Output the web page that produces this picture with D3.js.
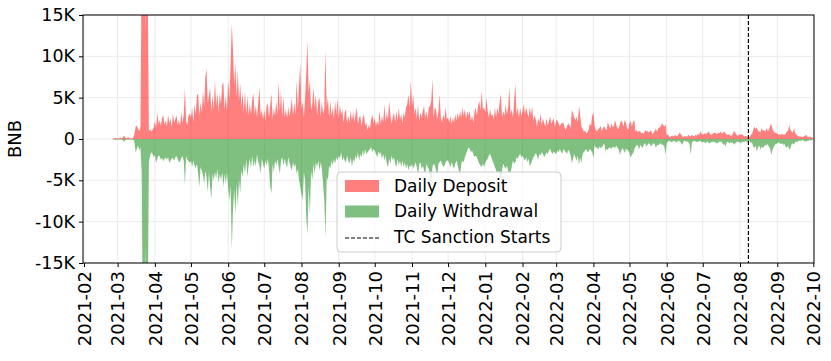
<!DOCTYPE html>
<html>
<head>
<meta charset="utf-8">
<script src="https://cdn.jsdelivr.net/npm/d3@7"></script>
<style>
  body { margin: 0; background: #fff; }
  text { font-family: "DejaVu Sans", sans-serif; }
</style>
</head>
<body>
<div id="chart"></div>
<script>
// first day of each block of daily values
var monthStarts = ["2021-02-25", "2021-03-01", "2021-04-01", "2021-05-01", "2021-06-01", "2021-07-01",
  "2021-08-01", "2021-09-01", "2021-10-01", "2021-11-01", "2021-12-01", "2022-01-01", "2022-02-01",
  "2022-03-01", "2022-04-01", "2022-05-01", "2022-06-01", "2022-07-01", "2022-08-01", "2022-09-01",
  "2022-10-01"];

// daily deposits, thousands of BNB (one row per month)
var depositK = [
  [0.1,0.05,0.15,0.1],
  [0.1,0.05,0.2,0.1,0.15,0.35,0.3,0.1,0.15,0.2, 0.1,0.1,0.05,0.15,0.6,1.5,1.6,1.2,1.0,1.3, 22,28,30,13,26,20,1.0,1.2,0.9,1.1, 1.4],
  [2.1,1.4,3.2,1.8,2.3,1.6,2.5,2.9,1.7,2.3, 1.5,2.9,1.9,2.5,1.4,3.1,2.0,2.4,2.9,1.7, 2.3,1.6,3.3,1.9,3.0,6.1,2.2,1.7,2.8,3.1],
  [2.6,3.8,2.0,4.2,3.0,5.3,5.5,2.8,4.4,3.2, 5.8,4.0,7.5,8.5,4.4,5.2,6.2,3.4,5.3,3.6, 7.1,4.0,5.6,3.2,5.5,4.2,6.5,6.9,3.6,5.2, 3.4],
  [7.1,4.8,9.0,14.0,10.8,6.5,9.2,5.0,8.3,4.6, 6.7,4.0,5.6,3.2,5.8,3.0,5.2,2.8,4.3,3.0, 4.8,5.5,2.9,4.1,2.6,4.4,6.3,2.8,3.6,2.4],
  [3.5,2.2,4.0,4.3,2.6,4.1,5.5,2.4,3.7,2.8, 4.6,3.0,7.0,3.4,5.9,2.6,5.1,2.6,3.6,2.5, 3.9,2.7,3.7,5.0,2.8,4.4,3.0,7.1,3.6,6.7, 9.2],
  [3.6,4.6,2.6,4.9,8.0,11.9,5.6,7.1,3.5,4.2, 6.3,3.8,5.4,2.8,4.6,5.0,2.7,4.6,3.0,3.7, 10.7,3.8,5.0,2.6,4.6,2.8,3.8,2.4,4.6,3.0, 5.0],
  [2.4,4.2,3.0,3.6,2.0,3.2,3.6,1.9,2.8,2.0, 3.4,2.2,3.4,2.0,3.0,3.8,1.8,2.6,2.8,1.5, 2.6,3.0,1.6,2.0,1.1,1.7,1.3,2.4,3.0,1.9],
  [2.6,1.5,2.2,1.6,3.4,1.8,2.8,2.0,4.2,2.0, 3.2,2.4,4.6,3.0,1.8,2.7,3.2,2.0,3.4,2.2, 3.8,2.4,3.0,1.9,3.2,2.6,3.8,4.2,5.4,3.8, 7.1],
  [4.0,5.4,3.0,3.8,2.4,4.2,2.2,3.2,2.6,3.4, 4.0,2.6,3.4,2.4,3.8,4.0,4.6,7.3,2.6,3.8, 3.6,2.4,3.4,5.4,2.6,2.0,3.0,2.4,3.8,2.4],
  [2.6,2.0,2.8,1.8,2.6,2.0,3.0,2.2,3.2,2.4, 3.4,2.6,3.8,2.8,3.6,2.4,3.4,2.8,3.4,2.2, 2.8,2.0,3.2,3.8,2.8,4.0,4.6,3.4,5.8,3.6, 3.8],
  [3.2,5.0,3.4,2.6,3.6,2.8,3.0,2.4,3.8,2.6, 3.8,3.0,4.6,5.4,2.6,3.4,2.8,4.2,3.0,3.8, 6.3,3.0,3.6,2.6,4.6,6.7,3.0,3.8,2.6,3.8, 2.8],
  [3.4,4.2,3.0,3.8,3.2,2.6,3.9,2.8,4.0,2.2, 2.9,2.4,1.5,2.5,2.0,3.1,1.7,2.5,1.9,1.5, 2.5,1.6,2.2,2.7,1.8,2.2,2.5,1.4],
  [2.3,2.2,1.9,1.5,1.8,1.9,2.0,1.4,1.1,1.5, 1.9,1.7,1.3,3.5,3.1,2.6,2.3,2.7,2.0,4.0, 2.9,1.5,1.2,0.9,1.0,0.7,0.8,1.1,1.9,1.6, 2.9],
  [3.1,1.5,1.1,0.9,1.2,1.3,1.6,0.9,1.4,1.5, 1.2,1.1,2.1,1.6,1.3,1.9,1.4,1.6,2.3,1.7, 1.3,1.2,1.8,2.3,2.0,1.5,2.3,2.0,1.3,1.1],
  [1.9,2.2,1.5,2.1,2.3,0.9,1.1,0.8,1.0,0.9, 0.7,0.8,0.6,1.1,0.9,1.0,0.8,0.9,1.1,0.5, 0.8,1.0,1.2,0.9,1.3,1.4,1.5,1.9,1.7,1.5, 1.8],
  [0.4,0.6,0.3,0.2,0.4,0.4,0.3,0.5,0.3,0.4, 0.6,0.8,0.5,0.3,0.2,0.4,0.3,0.3,0.5,0.4, 0.3,0.5,0.4,0.3,0.5,0.4,0.6,0.5,0.9,0.7],
  [0.5,0.6,0.7,0.6,0.8,0.9,0.6,0.5,0.6,0.7, 0.8,0.7,0.6,0.8,0.7,0.9,0.6,0.8,0.9,0.7, 0.5,0.5,0.6,0.4,0.4,0.6,1.0,0.8,0.5,0.4, 0.5],
  [0.5,0.6,0.5,0.4,0.3,0.4,0.3,0.3,0.2,0.5, 0.6,1.1,1.5,1.2,1.4,1.0,0.9,0.8,1.3,1.0, 1.1,0.9,1.3,1.0,1.1,1.5,1.9,1.2,0.9,0.8, 0.7],
  [0.7,0.5,0.6,0.5,0.6,0.5,0.5,0.6,0.9,1.0, 1.7,1.1,0.9,0.8,1.3,0.7,0.5,0.4,0.3,0.3, 0.3,0.2,0.3,0.4,0.5,0.3,0.2,0.3,0.2,0.2],
  [0.1]
];

// daily withdrawals, thousands of BNB (drawn below zero)
var withdrawalK = [
  [0.05,0.1,0.05,0.1],
  [0.05,0.1,0.05,0.1,0.1,0.3,0.2,0.05,0.1,0.1, 0.05,0.1,0.1,0.05,0.4,1.6,1.2,0.8,1.4,1.0, 4.0,24,30,13,26,22,2.8,2.0,1.6,1.8, 2.2],
  [1.9,2.9,2.4,2.0,2.1,2.5,2.3,2.7,2.4,2.2, 2.5,2.2,2.9,2.6,2.4,2.3,2.6,2.2,2.1,2.4, 2.8,2.7,2.3,2.1,2.6,5.5,2.1,2.5,2.7,2.9],
  [2.6,3.4,2.6,3.2,3.5,3.0,4.2,5.8,3.4,3.8, 4.4,5.4,3.8,4.6,6.4,4.0,5.8,7.2,4.2,5.0, 4.0,4.8,3.6,5.3,4.2,5.0,4.0,5.8,4.2,5.4, 4.0],
  [6.0,7.4,5.6,13.4,8.6,6.0,9.0,5.4,8.2,4.8, 6.6,3.8,4.6,3.0,4.2,2.4,4.6,3.2,2.4,3.5, 2.0,3.4,2.6,3.3,1.8,2.8,3.2,4.2,2.4,3.0],
  [3.6,2.6,3.2,2.4,3.6,5.8,6.6,3.0,4.0,2.6, 3.2,2.4,3.4,4.2,2.6,2.2,3.2,2.4,3.0,3.5, 2.2,2.8,3.4,3.8,2.8,3.4,3.0,4.2,3.6,5.0, 5.8],
  [6.6,7.5,4.0,5.0,9.5,11.5,5.6,9.1,3.8,5.0, 3.0,4.2,2.8,3.4,2.6,3.8,2.8,3.6,5.4,7.5, 11.9,4.6,5.0,3.2,3.6,2.6,3.2,2.4,3.0,2.2, 2.6],
  [2.0,2.4,1.6,2.6,2.2,2.6,2.8,2.0,2.6,3.0, 2.2,3.4,2.4,2.8,2.0,2.4,1.6,2.6,1.8,2.2, 1.4,2.0,1.2,1.8,1.6,1.4,1.2,1.0,1.6,1.2],
  [1.4,1.8,2.2,1.5,1.8,1.6,2.4,1.8,2.6,2.0, 3.0,3.4,2.4,3.0,2.0,2.6,2.2,3.0,3.4,2.4, 3.2,2.6,3.4,2.6,3.4,2.8,3.6,3.0,3.8,3.2, 3.4],
  [3.0,3.6,3.2,2.8,3.4,4.5,3.0,2.8,3.6,3.2, 3.8,4.2,3.0,3.4,3.6,4.8,5.6,3.4,3.0,3.2, 3.8,4.6,3.0,2.8,2.6,3.0,3.4,3.2,2.8,2.6],
  [2.6,3.0,3.4,2.8,3.2,3.6,3.0,2.6,3.2,3.8, 4.4,3.0,2.6,2.8,2.2,1.8,1.4,1.0,1.2,1.6, 1.4,1.8,2.2,2.0,2.2,2.6,3.0,3.2,3.4,3.0, 3.4],
  [2.8,2.6,2.4,2.0,1.8,2.2,2.6,3.0,3.4,3.8, 4.2,3.8,4.4,6.5,3.6,3.0,3.4,3.6,3.2,3.8, 4.2,4.0,3.4,2.6,3.0,2.8,2.2,2.4,2.0,1.8, 2.2],
  [2.0,2.4,2.6,2.2,2.8,2.4,3.3,3.0,2.6,2.2, 2.0,1.7,2.0,2.5,1.8,2.0,1.6,1.8,2.2,1.9, 1.6,1.8,1.4,1.2,1.6,1.8,1.5,1.7],
  [1.8,1.4,1.6,1.2,1.5,1.8,1.2,1.4,1.6,1.8, 1.3,1.5,2.0,2.9,2.4,1.8,2.2,2.6,2.0,3.1, 2.2,2.9,1.8,1.6,1.4,1.2,1.6,1.5,1.2,1.4, 1.6],
  [2.3,0.7,1.1,1.0,1.3,0.9,1.1,1.0,0.8,0.5, 1.5,1.2,1.3,1.0,1.1,1.2,0.9,1.0,1.1,0.8, 1.1,1.2,1.9,1.5,1.1,1.3,1.7,1.2,1.3,1.4],
  [1.7,2.3,1.9,1.7,1.3,0.9,0.8,0.7,1.3,0.7, 0.9,1.1,0.6,0.5,0.9,0.7,0.5,0.6,0.9,0.7, 0.5,0.6,1.1,0.7,0.8,0.6,0.5,0.7,0.7,0.9, 1.9],
  [0.5,0.3,0.2,0.3,0.4,0.3,0.2,0.3,0.4,0.3, 0.2,0.3,0.5,0.7,0.3,0.2,0.3,0.3,0.4,0.6, 1.9,0.4,0.3,0.2,0.3,0.4,0.3,0.3,0.2,0.4],
  [0.4,0.3,0.5,0.4,0.3,0.5,0.5,0.4,0.3,0.4, 0.3,0.5,0.5,0.4,0.3,0.3,0.4,0.7,0.6,0.9, 0.4,0.3,0.5,0.4,0.5,0.4,0.7,0.5,0.4,0.3, 0.4],
  [0.4,0.5,0.3,0.4,0.3,0.3,0.3,0.4,0.2,0.5, 0.4,0.9,1.1,0.8,1.5,1.0,0.8,1.3,0.9,1.1, 0.9,0.7,0.8,0.6,0.9,1.1,1.9,1.3,1.0,0.7, 0.6],
  [0.5,0.4,0.5,0.6,0.5,0.7,0.6,0.9,1.1,0.8, 1.3,1.1,0.6,0.5,0.7,0.3,0.4,0.3,0.2,0.2, 0.2,0.1,0.2,0.3,0.3,0.2,0.2,0.1,0.2,0.1],
  [0.05]
];

var yTicks = [-15, -10, -5, 0, 5, 10, 15];
var sanctionDate = "2022-08-08";
var legendLabels = ["Daily Deposit", "Daily Withdrawal", "TC Sanction Starts"];

var svgWidth = 831;
var svgHeight = 361;
var margin = { top: 15, right: 17, bottom: 98, left: 83 };
var width = svgWidth - margin.left - margin.right;
var height = svgHeight - margin.top - margin.bottom;

var parseDate = d3.timeParse("%Y-%m-%d");

// flatten the monthly blocks into daily rows
var rows = [];
monthStarts.forEach(function(s, m) {
  var start = parseDate(s);
  depositK[m].forEach(function(v, i) {
    rows.push({ date: d3.timeDay.offset(start, i), dep: v, wd: withdrawalK[m][i] });
  });
});

var svg = d3.select("#chart")
  .append("svg")
  .attr("width", svgWidth)
  .attr("height", svgHeight);

var chartGroup = svg.append("g")
  .attr("transform", `translate(${margin.left}, ${margin.top})`);

var xScale = d3.scaleTime()
  .domain([new Date(2021, 1, 1), new Date(2022, 9, 1)])
  .range([1, 730.3]);

var yScale = d3.scaleLinear()
  .domain([-15, 15])
  .range([height, 0]);

var monthTicks = d3.timeMonth.range(new Date(2021, 1, 1), new Date(2022, 9, 2));

// grid
chartGroup.append("g")
  .selectAll("line")
  .data(monthTicks)
  .enter().append("line")
  .attr("x1", d => xScale(d)).attr("x2", d => xScale(d))
  .attr("y1", 0).attr("y2", height)
  .attr("stroke", "#ebebeb").attr("stroke-width", 1);

chartGroup.append("g")
  .selectAll("line")
  .data(yTicks)
  .enter().append("line")
  .attr("x1", 0).attr("x2", width)
  .attr("y1", d => yScale(d)).attr("y2", d => yScale(d))
  .attr("stroke", "#ebebeb").attr("stroke-width", 1);

chartGroup.append("clipPath")
  .attr("id", "plotClip")
  .append("rect")
  .attr("width", width).attr("height", height);

var plot = chartGroup.append("g").attr("clip-path", "url(#plotClip)");

var depArea = d3.area()
  .x(d => xScale(d.date))
  .y0(yScale(0))
  .y1(d => yScale(d.dep));

var wdArea = d3.area()
  .x(d => xScale(d.date))
  .y0(yScale(0))
  .y1(d => yScale(-d.wd));

plot.append("path")
  .datum(rows)
  .attr("d", depArea)
  .attr("fill", "red")
  .attr("fill-opacity", 0.5);

plot.append("path")
  .datum(rows)
  .attr("d", wdArea)
  .attr("fill", "green")
  .attr("fill-opacity", 0.5);

// sanction line
var sx = xScale(parseDate(sanctionDate));
chartGroup.append("line")
  .attr("x1", sx).attr("x2", sx)
  .attr("y1", 0).attr("y2", height)
  .attr("stroke", "black")
  .attr("stroke-width", 1.2)
  .attr("stroke-dasharray", "4,2");

// axes
var bottomAxis = d3.axisBottom(xScale)
  .tickValues(monthTicks)
  .tickFormat(d3.timeFormat("%Y-%m"))
  .tickSize(4)
  .tickSizeOuter(0);

var leftAxis = d3.axisLeft(yScale)
  .tickValues(yTicks)
  .tickFormat(d => d === 0 ? "0" : d + "K")
  .tickSize(4)
  .tickSizeOuter(0);

var xg = chartGroup.append("g")
  .attr("transform", `translate(0, ${height})`)
  .call(bottomAxis);
xg.select(".domain").remove();
xg.selectAll("text")
  .attr("transform", "rotate(-90)")
  .attr("text-anchor", "end")
  .attr("x", -8)
  .attr("y", 0)
  .attr("dy", "0.35em")
  .attr("font-size", 18)
  .attr("fill", "black")
  .attr("font-family", "DejaVu Sans");

var yg = chartGroup.append("g").call(leftAxis);
yg.select(".domain").remove();
yg.selectAll("text")
  .attr("x", -8)
  .attr("font-size", 17.5)
  .attr("fill", "black")
  .attr("font-family", "DejaVu Sans");

// frame
chartGroup.append("rect")
  .attr("width", width).attr("height", height)
  .attr("fill", "none")
  .attr("stroke", "black")
  .attr("stroke-width", 1);

// y label
svg.append("text")
  .attr("transform", `translate(21, ${margin.top + height / 2}) rotate(-90)`)
  .attr("text-anchor", "middle")
  .attr("font-size", 18)
  .text("BNB");

// legend
var lg = chartGroup.append("g")
  .attr("transform", `translate(${337 - margin.left}, ${172 - margin.top})`);

lg.append("rect")
  .attr("width", 224).attr("height", 80)
  .attr("rx", 4)
  .attr("fill", "white").attr("fill-opacity", 0.8)
  .attr("stroke", "#cccccc");

var legendFills = ["red", "green"];
legendFills.forEach(function(c, i) {
  lg.append("rect")
    .attr("x", 8).attr("y", 8 + i * 25.5)
    .attr("width", 34).attr("height", 12)
    .attr("fill", c).attr("fill-opacity", 0.5);
});

lg.append("line")
  .attr("x1", 8).attr("x2", 42)
  .attr("y1", 66).attr("y2", 66)
  .attr("stroke", "black")
  .attr("stroke-width", 1.2)
  .attr("stroke-dasharray", "4,2");

lg.selectAll("text")
  .data(legendLabels)
  .enter().append("text")
  .attr("x", 57)
  .attr("y", (d, i) => 14 + i * 25.5)
  .attr("dy", "0.35em")
  .attr("font-size", 17)
  .text(d => d);
</script>
</body>
</html>
